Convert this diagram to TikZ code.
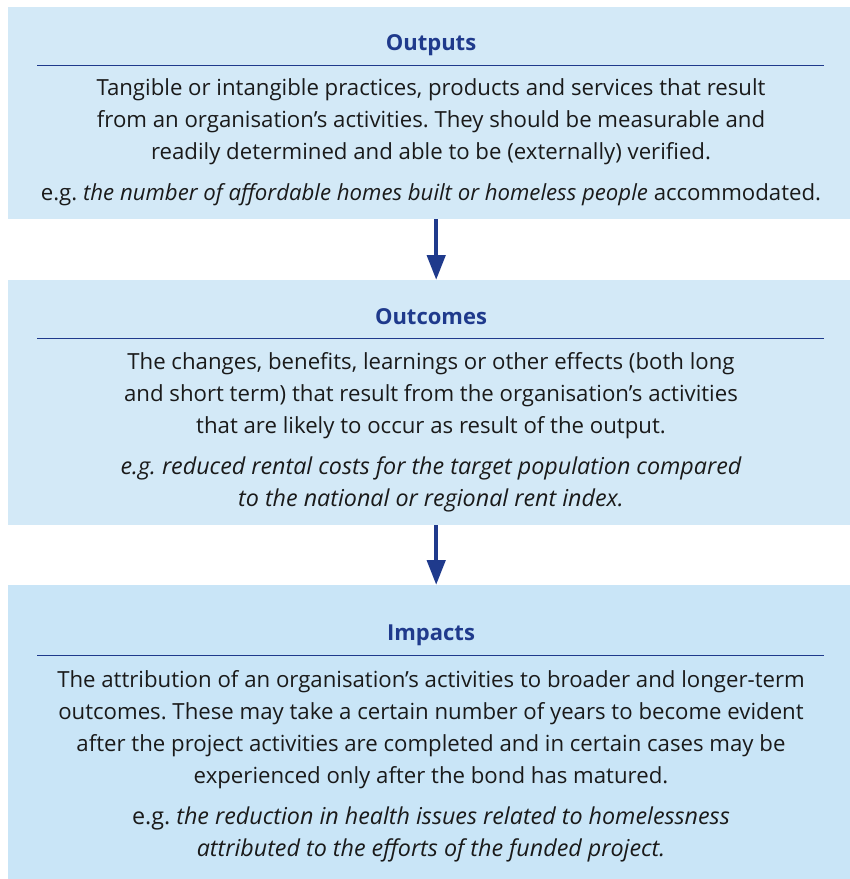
\documentclass[tikz,border=0pt]{standalone}
\usepackage{fontspec}
\setmainfont{Open Sans}
\usetikzlibrary{arrows.meta}
\definecolor{panelblue}{HTML}{D3E9F7}
\definecolor{impactblue}{HTML}{C9E5F7}
\definecolor{navy}{HTML}{1F3A8C}
\definecolor{ink}{HTML}{1A1A1A}
\frenchspacing

\begin{document}
\begin{tikzpicture}[x=1pt,y=-1pt,
  panel/.style = {shape=rectangle, anchor=north west, minimum width=842pt, fill=panelblue, inner sep=0pt},
  heading/.style = {font=\fontsize{22}{26}\selectfont\bfseries, text=navy},
  body/.style = {align=center, font=\fontsize{22.2}{32}\selectfont, text=ink, inner sep=0pt},
  example/.style = {body, font=\fontsize{23.3}{32}\selectfont\itshape},
  rule/.style = {navy, line width=1pt},
  flow/.style = {navy, line width=4.5pt, -{Triangle[width=18pt,length=25pt]}}]

  \useasboundingbox (0,0) rectangle (850,879);

  \node[panel, minimum height=212pt] (outputs) at (8,7) {};
  \node[panel, minimum height=245pt] (outcomes) at (8,280) {};
  \node[panel, minimum height=294pt, fill=impactblue] (impacts) at (8,585) {};

  \node[heading] (outputs-title) at (431,45) {Outputs};
  \draw[rule] (37,65) -- (824,65);
  \node[body] (outputs-text) at (431,122) {Tangible or intangible practices, products and services that result\\
    from an organisation’s activities. They should be measurable and\\
    readily determined and able to be (externally) verified.};
  \node[body] (outputs-eg) at (431,195) {e.g.\ \textit{the number of affordable homes built or homeless people} accommodated.};

  \node[heading] (outcomes-title) at (431,317) {Outcomes};
  \draw[rule] (37,338) -- (824,338);
  \node[body] (outcomes-text) at (431,395.5) {The changes, benefits, learnings or other effects (both long\\
    and short term) that result from the organisation’s activities\\
    that are likely to occur as result of the output.};
  \node[example] (outcomes-eg) at (431,484.5) {e.g. reduced rental costs for the target population compared\\
    to the national or regional rent index.};

  \node[heading] (impacts-title) at (431,635) {Impacts};
  \draw[rule] (37,655) -- (824,655);
  \node[body] (impacts-text) at (431,730) {The attribution of an organisation’s activities to broader and longer-term\\
    outcomes. These may take a certain number of years to become evident\\
    after the project activities are completed and in certain cases may be\\
    experienced only after the bond has matured.};
  \node[example] (impacts-eg) at (431,834) {{\upshape e.g.} the reduction in health issues related to homelessness\\
    attributed to the efforts of the funded project.};

  \draw[flow] ([xshift=7pt]outputs.south) -- ([xshift=7pt]outcomes.north);
  \draw[flow] ([xshift=7pt]outcomes.south) -- ([xshift=7pt]impacts.north);
\end{tikzpicture}
\end{document}
